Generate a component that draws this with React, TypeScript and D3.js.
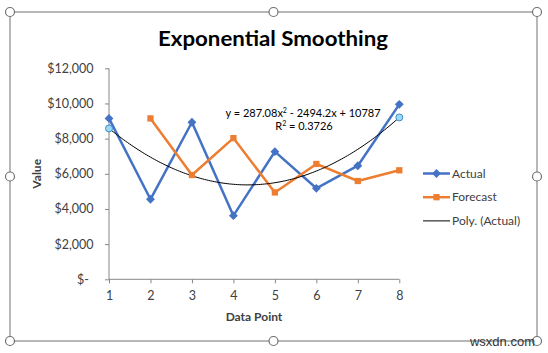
import { useRef, useEffect } from "react";
import * as d3 from "d3";

const dataPoints = [1, 2, 3, 4, 5, 6, 7, 8];
const actualValues = [9150, 4550, 8930, 3620, 7260, 5175, 6460, 9950];
const forecastValues: (number | null)[] = [null, 9150, 5930, 8030, 4940, 6560, 5590, 6200];
const yTicks = [0, 2000, 4000, 6000, 8000, 10000, 12000];
// poly trendline coefficients: c0 + c1*x + c2*x^2
const trendCoefs = [10787, -2494.2, 287.08];
const legendItems = [
  { label: "Actual", color: "#4472C4", marker: "diamond" },
  { label: "Forecast", color: "#ED7D31", marker: "square" },
  { label: "Poly. (Actual)", color: "#000000", marker: "none" },
];

const W = 548;
const H = 353;
const FONT = "Lato, 'Open Sans', sans-serif";

export default function App() {
  const svgRef = useRef<SVGSVGElement>(null);

  useEffect(() => {
    document.body.style.margin = "0";
    if (!svgRef.current) return;
    const svg = d3.select(svgRef.current);
    svg.selectAll("*").remove();

    const x = d3.scaleLinear().domain([1, 8]).range([109, 399.3]);
    const y = d3.scaleLinear().domain([0, 12000]).range([279.3, 68.3]);
    const axisColor = "#868686";
    const textColor = "#404040";

    svg.append("rect").attr("width", W).attr("height", H).attr("fill", "#fff");

    // chart frame
    const frame = { l: 10, t: 12, r: 537, b: 341 };
    svg
      .append("rect")
      .attr("x", frame.l)
      .attr("y", frame.t)
      .attr("width", frame.r - frame.l)
      .attr("height", frame.b - frame.t)
      .attr("fill", "none")
      .attr("stroke", "#707070")
      .attr("stroke-width", 1);

    // title
    svg
      .append("text")
      .attr("x", 273)
      .attr("y", 45.5)
      .attr("text-anchor", "middle")
      .attr("textLength", 230)
      .attr("lengthAdjust", "spacingAndGlyphs")
      .style("font-family", FONT)
      .style("font-size", "21px")
      .style("font-weight", "bold")
      .style("fill", "#000")
      .text("Exponential Smoothing");

    // Y axis
    const yAxis = svg
      .append("g")
      .attr("transform", `translate(${x(1)},0)`)
      .call(
        d3
          .axisLeft(y)
          .tickValues(yTicks)
          .tickSize(4)
          .tickPadding(12)
          .tickFormat((d) => (+d === 0 ? "$-" : d3.format("$,")(+d)))
      );
    yAxis.select(".domain").attr("stroke", axisColor).attr("d", `M0,${y(0)}V${y(12000)}`);
    yAxis.selectAll(".tick line").attr("stroke", axisColor);
    yAxis
      .selectAll("text")
      .style("font-family", FONT)
      .style("font-size", "12.5px")
      .style("fill", textColor)
      .attr("x", (d) => (+d === 0 ? -20 : -15.5));

    // X axis
    const xAxis = svg
      .append("g")
      .attr("transform", `translate(0,${y(0)})`)
      .call(d3.axisBottom(x).tickValues(dataPoints).tickSize(4).tickPadding(8).tickFormat(d3.format("d")));
    xAxis.select(".domain").attr("stroke", axisColor).attr("d", `M${x(1)},0H${x(8)}`);
    xAxis.selectAll(".tick line").attr("stroke", axisColor);
    xAxis
      .selectAll("text")
      .style("font-family", FONT)
      .style("font-size", "12.5px")
      .style("fill", textColor);

    // axis titles
    svg
      .append("text")
      .attr("transform", `translate(41,${(y(0) + y(12000)) / 2}) rotate(-90)`)
      .attr("text-anchor", "middle")
      .style("font-family", FONT)
      .style("font-size", "12px")
      .style("font-weight", "bold")
      .style("fill", textColor)
      .text("Value");
    svg
      .append("text")
      .attr("x", 254)
      .attr("y", 321)
      .attr("text-anchor", "middle")
      .style("font-family", FONT)
      .style("font-size", "12px")
      .style("font-weight", "bold")
      .style("fill", textColor)
      .text("Data Point");

    const diamond = d3.symbol().type(d3.symbolDiamond2).size(50);
    const square = d3.symbol().type(d3.symbolSquare2).size(50);

    // Actual
    const actualLine = d3
      .line<number>()
      .x((_, i) => x(dataPoints[i]))
      .y((d) => y(d));
    svg
      .append("path")
      .attr("d", actualLine(actualValues))
      .attr("fill", "none")
      .attr("stroke", legendItems[0].color)
      .attr("stroke-width", 2.5)
      .attr("stroke-linejoin", "round");

    // Forecast
    const fcPoints = forecastValues
      .map((v, i) => ({ x: dataPoints[i], v }))
      .filter((d) => d.v !== null) as { x: number; v: number }[];
    svg
      .append("path")
      .attr(
        "d",
        d3
          .line<{ x: number; v: number }>()
          .x((d) => x(d.x))
          .y((d) => y(d.v))(fcPoints)
      )
      .attr("fill", "none")
      .attr("stroke", legendItems[1].color)
      .attr("stroke-width", 2.5)
      .attr("stroke-linejoin", "round");

    // trendline
    const poly = (t: number) => trendCoefs[0] + trendCoefs[1] * t + trendCoefs[2] * t * t;
    const tx = d3.range(1, 8.001, 0.05);
    svg
      .append("path")
      .attr(
        "d",
        d3
          .line<number>()
          .x((t) => x(t))
          .y((t) => y(poly(t)))(tx)
      )
      .attr("fill", "none")
      .attr("stroke", "#000")
      .attr("stroke-width", 1);

    // markers
    svg
      .append("g")
      .selectAll("path")
      .data(actualValues)
      .join("path")
      .attr("transform", (d, i) => `translate(${x(dataPoints[i])},${y(d)})`)
      .attr("d", diamond)
      .attr("fill", legendItems[0].color);
    svg
      .append("g")
      .selectAll("path")
      .data(fcPoints)
      .join("path")
      .attr("transform", (d) => `translate(${x(d.x)},${y(d.v)})`)
      .attr("d", square)
      .attr("fill", legendItems[1].color);

    // selected trendline end handles
    svg
      .append("g")
      .selectAll("circle")
      .data([1, 8])
      .join("circle")
      .attr("cx", (t) => x(t))
      .attr("cy", (t) => y(poly(t)))
      .attr("r", 3.5)
      .attr("fill", "#9DD9F7")
      .attr("stroke", "#3A8FC9")
      .attr("stroke-width", 1);

    // equation
    const eq = svg
      .append("text")
      .attr("x", 303)
      .attr("y", 117)
      .attr("text-anchor", "middle")
      .style("font-family", FONT)
      .style("font-size", "11px")
      .style("fill", "#000");
    eq.append("tspan").text(`y = ${trendCoefs[2]}x`);
    eq.append("tspan").attr("dy", -4).style("font-size", "7px").text("2");
    eq.append("tspan").attr("dy", 4).text(` - ${-trendCoefs[1]}x + ${trendCoefs[0]}`);
    const r2 = svg
      .append("text")
      .attr("x", 304)
      .attr("y", 130)
      .attr("text-anchor", "middle")
      .style("font-family", FONT)
      .style("font-size", "11px")
      .style("fill", "#000");
    r2.append("tspan").text("R");
    r2.append("tspan").attr("dy", -4).style("font-size", "7px").text("2");
    r2.append("tspan").attr("dy", 4).text(" = 0.3726");

    // legend
    const legend = svg.append("g");
    legendItems.forEach((s, i) => {
      const ly = 173.5 + i * 23.7;
      const lg = legend.append("g").attr("transform", `translate(0,${ly})`);
      lg.append("line")
        .attr("x1", 423)
        .attr("x2", 450)
        .attr("stroke", s.color)
        .attr("stroke-width", s.marker === "none" ? 1 : 2.5);
      if (s.marker !== "none") {
        lg.append("path")
          .attr("transform", "translate(436.5,0)")
          .attr("d", s.marker === "diamond" ? diamond : square)
          .attr("fill", s.color);
      }
      lg.append("text")
        .attr("x", 452)
        .attr("y", 4)
        .style("font-family", FONT)
        .style("font-size", "12px")
        .style("fill", textColor)
        .text(s.label);
    });

    // selection handles
    const midX = (frame.l + frame.r) / 2;
    const midY = (frame.t + frame.b) / 2;
    const handles = [
      [frame.l, frame.t], [midX, frame.t], [frame.r, frame.t],
      [frame.l, midY], [frame.r, midY],
      [frame.l, frame.b], [midX, frame.b], [frame.r, frame.b],
    ];
    svg
      .append("g")
      .selectAll("circle")
      .data(handles)
      .join("circle")
      .attr("cx", (d) => d[0])
      .attr("cy", (d) => d[1])
      .attr("r", 4.5)
      .attr("fill", "#fff")
      .attr("stroke", "#707070")
      .attr("stroke-width", 1.2);

    // watermark
    svg
      .append("text")
      .attr("x", 535)
      .attr("y", 346)
      .attr("text-anchor", "end")
      .style("font-family", "'Liberation Sans', Arial, sans-serif")
      .style("font-size", "13px")
      .style("fill", "#333")
      .text("wsxdn.com");
  }, []);

  return <svg ref={svgRef} width={W} height={H} style={{ display: "block" }} />;
}
